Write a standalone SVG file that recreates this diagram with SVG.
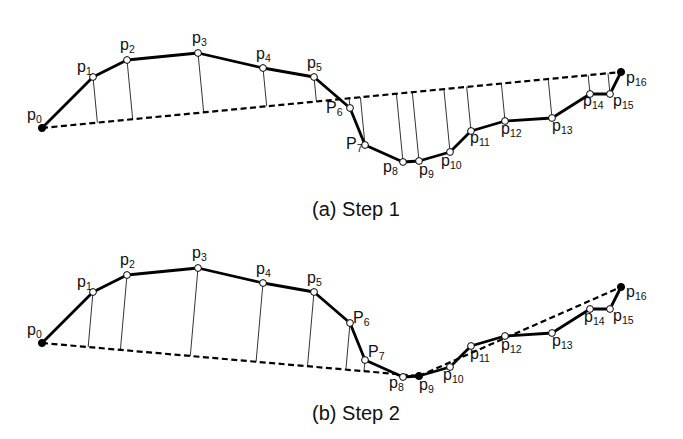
<svg xmlns="http://www.w3.org/2000/svg" width="683" height="439" viewBox="0 0 683 439">
<style>
.bg{fill:#fff}
.poly{fill:none;stroke:#000;stroke-width:2.8;stroke-linejoin:round}
.dash{fill:none;stroke:#000;stroke-width:2.2;stroke-dasharray:6,3.5}
.perp{stroke:#000;stroke-width:0.8}
.pt{fill:#fff;stroke:#000;stroke-width:1}
.end{fill:#000;stroke:#000;stroke-width:1}
.lbl{font-family:"Liberation Sans",Arial,sans-serif;font-size:16px;fill:#111}
.sub{font-size:10.5px}
.cap{font-family:"Liberation Sans",Arial,sans-serif;font-size:20px;fill:#111;text-anchor:middle}
</style>
<rect class="bg" x="0" y="0" width="683" height="439"/>

<!-- ===== Panel (a) ===== -->
<g id="connectors-a">
  <line class="perp" x1="93" y1="77" x2="97.4" y2="122.6"/>
  <line class="perp" x1="127" y1="60" x2="132.7" y2="119.2"/>
  <line class="perp" x1="198" y1="53" x2="203.7" y2="112.4"/>
  <line class="perp" x1="263" y1="68" x2="266.7" y2="106.3"/>
  <line class="perp" x1="314" y1="77" x2="316.4" y2="101.5"/>
  <line class="perp" x1="350" y1="108" x2="349.1" y2="98.3"/>
  <line class="perp" x1="365" y1="145" x2="360.4" y2="97.2"/>
  <line class="perp" x1="403" y1="162" x2="396.4" y2="93.7"/>
  <line class="perp" x1="419" y1="161" x2="412.3" y2="92.2"/>
  <line class="perp" x1="450" y1="152" x2="443.9" y2="89.1"/>
  <line class="perp" x1="471" y1="131" x2="466.7" y2="86.9"/>
  <line class="perp" x1="505" y1="121" x2="501.4" y2="83.6"/>
  <line class="perp" x1="552" y1="118" x2="548.2" y2="79.0"/>
  <line class="perp" x1="590" y1="94" x2="588.2" y2="75.2"/>
  <line class="perp" x1="610" y1="94" x2="608.0" y2="73.3"/>
  <line class="dash" x1="42" y1="128" x2="621" y2="72"/>
  <polyline class="poly" points="42,128 93,77 127,60 198,53 263,68 314,77 350,108 365,145 403,162 419,161 450,152 471,131 505,121 552,118 590,94 610,94 621,72"/>
</g>
<g id="a-p0"><circle class="end" cx="42" cy="128" r="3.6"/><text class="lbl" x="27" y="120">p<tspan class="sub" dy="3">0</tspan></text></g>
<g id="a-p1"><circle class="pt" cx="93" cy="77" r="3.4"/><text class="lbl" x="77" y="72">p<tspan class="sub" dy="3">1</tspan></text></g>
<g id="a-p2"><circle class="pt" cx="127" cy="60" r="3.4"/><text class="lbl" x="120" y="50">p<tspan class="sub" dy="3">2</tspan></text></g>
<g id="a-p3"><circle class="pt" cx="198" cy="53" r="3.4"/><text class="lbl" x="192" y="43">p<tspan class="sub" dy="3">3</tspan></text></g>
<g id="a-p4"><circle class="pt" cx="263" cy="68" r="3.4"/><text class="lbl" x="256" y="59">p<tspan class="sub" dy="3">4</tspan></text></g>
<g id="a-p5"><circle class="pt" cx="314" cy="77" r="3.4"/><text class="lbl" x="307" y="68">p<tspan class="sub" dy="3">5</tspan></text></g>
<g id="a-p6"><circle class="pt" cx="350" cy="108" r="3.4"/><text class="lbl" x="326" y="113">P<tspan class="sub" dy="3">6</tspan></text></g>
<g id="a-p7"><circle class="pt" cx="365" cy="145" r="3.4"/><text class="lbl" x="346" y="149">P<tspan class="sub" dy="3">7</tspan></text></g>
<g id="a-p8"><circle class="pt" cx="403" cy="162" r="3.4"/><text class="lbl" x="383" y="172">p<tspan class="sub" dy="3">8</tspan></text></g>
<g id="a-p9"><circle class="pt" cx="419" cy="161" r="3.4"/><text class="lbl" x="419" y="175">p<tspan class="sub" dy="3">9</tspan></text></g>
<g id="a-p10"><circle class="pt" cx="450" cy="152" r="3.4"/><text class="lbl" x="441" y="166">p<tspan class="sub" dy="3">10</tspan></text></g>
<g id="a-p11"><circle class="pt" cx="471" cy="131" r="3.4"/><text class="lbl" x="470" y="143">p<tspan class="sub" dy="3">11</tspan></text></g>
<g id="a-p12"><circle class="pt" cx="505" cy="121" r="3.4"/><text class="lbl" x="501" y="134">p<tspan class="sub" dy="3">12</tspan></text></g>
<g id="a-p13"><circle class="pt" cx="552" cy="118" r="3.4"/><text class="lbl" x="552" y="131">p<tspan class="sub" dy="3">13</tspan></text></g>
<g id="a-p14"><circle class="pt" cx="590" cy="94" r="3.4"/><text class="lbl" x="583" y="106">p<tspan class="sub" dy="3">14</tspan></text></g>
<g id="a-p15"><circle class="pt" cx="610" cy="94" r="3.4"/><text class="lbl" x="613" y="106">p<tspan class="sub" dy="3">15</tspan></text></g>
<g id="a-p16"><circle class="end" cx="621" cy="72" r="3.6"/><text class="lbl" x="626" y="83">p<tspan class="sub" dy="3">16</tspan></text></g>
<text class="cap" x="356" y="216">(a) Step 1</text>

<!-- ===== Panel (b) ===== -->
<g id="connectors-b">
  <line class="perp" x1="93" y1="292" x2="88.2" y2="347.0"/>
  <line class="perp" x1="127" y1="275" x2="120.4" y2="349.9"/>
  <line class="perp" x1="198" y1="268" x2="190.3" y2="356.0"/>
  <line class="perp" x1="263" y1="283" x2="256.1" y2="361.7"/>
  <line class="perp" x1="314" y1="292" x2="307.5" y2="366.2"/>
  <line class="perp" x1="350" y1="323" x2="345.9" y2="369.6"/>
  <line class="perp" x1="365" y1="360" x2="364.0" y2="371.2"/>
  <line class="dash" x1="42" y1="343" x2="419" y2="376"/>
  <line class="dash" x1="419" y1="376" x2="621" y2="287"/>
  <polyline class="poly" points="42,343 93,292 127,275 198,268 263,283 314,292 350,323 365,360 403,377 419,376 450,367 471,346 505,336 552,333 590,309 610,309 621,287"/>
</g>
<g id="b-p0"><circle class="end" cx="42" cy="343" r="3.6"/><text class="lbl" x="27" y="335">p<tspan class="sub" dy="3">0</tspan></text></g>
<g id="b-p1"><circle class="pt" cx="93" cy="292" r="3.4"/><text class="lbl" x="77" y="287">p<tspan class="sub" dy="3">1</tspan></text></g>
<g id="b-p2"><circle class="pt" cx="127" cy="275" r="3.4"/><text class="lbl" x="120" y="265">p<tspan class="sub" dy="3">2</tspan></text></g>
<g id="b-p3"><circle class="pt" cx="198" cy="268" r="3.4"/><text class="lbl" x="192" y="258">p<tspan class="sub" dy="3">3</tspan></text></g>
<g id="b-p4"><circle class="pt" cx="263" cy="283" r="3.4"/><text class="lbl" x="256" y="274">p<tspan class="sub" dy="3">4</tspan></text></g>
<g id="b-p5"><circle class="pt" cx="314" cy="292" r="3.4"/><text class="lbl" x="307" y="283">p<tspan class="sub" dy="3">5</tspan></text></g>
<g id="b-p6"><circle class="pt" cx="350" cy="323" r="3.4"/><text class="lbl" x="353" y="323">P<tspan class="sub" dy="3">6</tspan></text></g>
<g id="b-p7"><circle class="pt" cx="365" cy="360" r="3.4"/><text class="lbl" x="368" y="357">P<tspan class="sub" dy="3">7</tspan></text></g>
<g id="b-p8"><circle class="pt" cx="403" cy="377" r="3.4"/><text class="lbl" x="389" y="388">p<tspan class="sub" dy="3">8</tspan></text></g>
<g id="b-p9"><circle class="end" cx="419" cy="376" r="3.6"/><text class="lbl" x="419" y="390">p<tspan class="sub" dy="3">9</tspan></text></g>
<g id="b-p10"><circle class="pt" cx="450" cy="367" r="3.4"/><text class="lbl" x="443" y="380">p<tspan class="sub" dy="3">10</tspan></text></g>
<g id="b-p11"><circle class="pt" cx="471" cy="346" r="3.4"/><text class="lbl" x="470" y="359">p<tspan class="sub" dy="3">11</tspan></text></g>
<g id="b-p12"><circle class="pt" cx="505" cy="336" r="3.4"/><text class="lbl" x="501" y="350">p<tspan class="sub" dy="3">12</tspan></text></g>
<g id="b-p13"><circle class="pt" cx="552" cy="333" r="3.4"/><text class="lbl" x="552" y="346">p<tspan class="sub" dy="3">13</tspan></text></g>
<g id="b-p14"><circle class="pt" cx="590" cy="309" r="3.4"/><text class="lbl" x="584" y="322">p<tspan class="sub" dy="3">14</tspan></text></g>
<g id="b-p15"><circle class="pt" cx="610" cy="309" r="3.4"/><text class="lbl" x="613" y="321">p<tspan class="sub" dy="3">15</tspan></text></g>
<g id="b-p16"><circle class="end" cx="621" cy="287" r="3.6"/><text class="lbl" x="626" y="297">p<tspan class="sub" dy="3">16</tspan></text></g>
<text class="cap" x="356" y="420">(b) Step 2</text>
</svg>
